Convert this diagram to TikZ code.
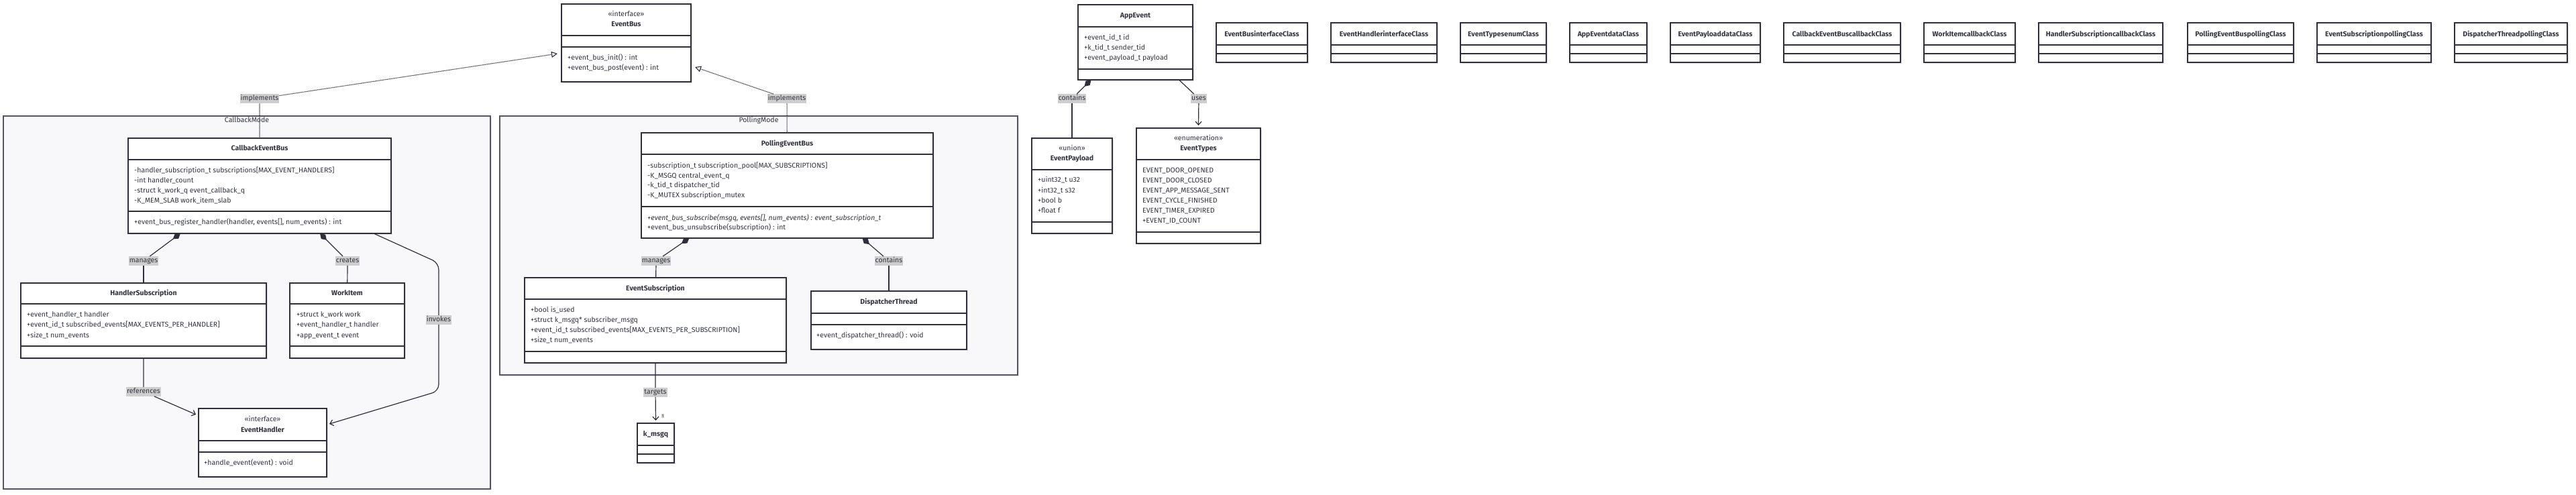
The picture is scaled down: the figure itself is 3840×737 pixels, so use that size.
\documentclass[tikz,border=0pt]{standalone}
\usepackage{fontspec}
\setmainfont{Fira Sans}
\usetikzlibrary{arrows.meta,fit,shadows}
\definecolor{boxline}{HTML}{2E2E3C}
\definecolor{grpfill}{HTML}{F8F8FA}
\definecolor{grpline}{HTML}{55555F}
\definecolor{lblfill}{HTML}{CECECE}
\definecolor{txt}{HTML}{333340}
\newcommand{\fnt}{\fontsize{10.5}{12.6}\selectfont}
\begin{document}
\begin{tikzpicture}[x=1pt, y=-1pt]

	\tikzstyle{grupo}=[draw=grpline, fill=grpfill, line width=1.2pt, inner sep=0pt, outer sep=0pt, drop shadow={shadow xshift=2pt, shadow yshift=-2pt, fill=black!8, opacity=1}]
	\tikzstyle{clase}=[draw=boxline, fill=white, line width=1.5pt, inner sep=0pt, outer sep=0pt, drop shadow={shadow xshift=2pt, shadow yshift=-2pt, fill=black!10, opacity=1}]
	\tikzstyle{div}=[draw=boxline, line width=1.5pt]
	\tikzstyle{attr}=[anchor=west, inner sep=0pt, text=txt, font=\fnt, text height=8pt, text depth=2.5pt]
	\tikzstyle{titulo}=[inner sep=0pt, text=txt, font=\fnt\bfseries, text height=8pt, text depth=2.5pt]
	\tikzstyle{estereo}=[inner sep=0pt, text=txt, font=\fnt, text height=8pt, text depth=2.5pt]
	\tikzstyle{etiq}=[fill=lblfill, inner xsep=1pt, inner ysep=1.5pt, text=txt, font=\fnt, text height=8pt, text depth=2.5pt]
	\tikzstyle{lin}=[draw=boxline, line width=1.2pt]
	\tikzstyle{impl}=[draw=boxline, line width=1.1pt, dash pattern=on 1.2pt off 0.8pt, -{Triangle[open, length=9pt, width=9pt]}]
	\tikzstyle{comp}=[lin, {Diamond[length=14pt, width=9pt]}-]
	\tikzstyle{dep}=[lin, -{Straight Barb[length=5pt, width=9pt]}]

	\useasboundingbox[fill=white] (0,0) rectangle (3840,737);

	%%%%%%% GRUPOS %%%%%%%%
	\node[grupo, fit={(5,173)(731,729)}] (g_cb) {};
	\node[estereo] (g_cb_t) at (g_cb.north |- 0,180) {CallbackMode};
	\node[grupo, fit={(745,173)(1517,559)}] (g_pb) {};
	\node[estereo] (g_pb_t) at (g_pb.north |- 0,180) {PollingMode};

	%%%%%%% INTERFAZ EVENTBUS %%%%%%%%
	\node[clase, fit={(837,6)(1030,122)}] (c_ebus) {};
	\draw[div] (c_ebus.west |- 0,53) -- (c_ebus.east |- 0,53);
	\draw[div] (c_ebus.west |- 0,70) -- (c_ebus.east |- 0,70);
	\node[estereo] (ebus_s) at (c_ebus.center |- 0,22) {«interface»};
	\node[titulo] (ebus_t) at (c_ebus.center |- 0,37) {EventBus};
	\node[attr] (ebus_m1) at (846,87) {+event\_bus\_init() : int};
	\node[attr] (ebus_m2) at (846,102) {+event\_bus\_post(event) : int};

	%%%%%%% CALLBACK MODE %%%%%%%%
	\node[clase, fit={(191,206)(583,348)}] (c_cbbus) {};
	\draw[div] (c_cbbus.west |- 0,238) -- (c_cbbus.east |- 0,238);
	\draw[div] (c_cbbus.west |- 0,315) -- (c_cbbus.east |- 0,315);
	\node[titulo] (cbbus_t) at (c_cbbus.center |- 0,222) {CallbackEventBus};
	\node[attr] (cbbus_a1) at (200,255) {-handler\_subscription\_t subscriptions[MAX\_EVENT\_HANDLERS]};
	\node[attr] (cbbus_a2) at (200,270) {-int handler\_count};
	\node[attr] (cbbus_a3) at (200,285) {-struct k\_work\_q event\_callback\_q};
	\node[attr] (cbbus_a4) at (200,300) {-K\_MEM\_SLAB work\_item\_slab};
	\node[attr] (cbbus_m1) at (200,332) {+event\_bus\_register\_handler(handler, events[], num\_events) : int};

	\node[clase, fit={(31,422)(397,534)}] (c_hsub) {};
	\draw[div] (c_hsub.west |- 0,453) -- (c_hsub.east |- 0,453);
	\draw[div] (c_hsub.west |- 0,516) -- (c_hsub.east |- 0,516);
	\node[titulo] (hsub_t) at (c_hsub.center |- 0,438) {HandlerSubscription};
	\node[attr] (hsub_a1) at (40,470) {+event\_handler\_t handler};
	\node[attr] (hsub_a2) at (40,485) {+event\_id\_t subscribed\_events[MAX\_EVENTS\_PER\_HANDLER]};
	\node[attr] (hsub_a3) at (40,501) {+size\_t num\_events};

	\node[clase, fit={(432,422)(603,534)}] (c_witem) {};
	\draw[div] (c_witem.west |- 0,453) -- (c_witem.east |- 0,453);
	\draw[div] (c_witem.west |- 0,516) -- (c_witem.east |- 0,516);
	\node[titulo] (witem_t) at (c_witem.center |- 0,438) {WorkItem};
	\node[attr] (witem_a1) at (442,470) {+struct k\_work work};
	\node[attr] (witem_a2) at (442,485) {+event\_handler\_t handler};
	\node[attr] (witem_a3) at (442,501) {+app\_event\_t event};

	\node[clase, fit={(296,609)(487,711)}] (c_ehand) {};
	\draw[div] (c_ehand.west |- 0,657) -- (c_ehand.east |- 0,657);
	\draw[div] (c_ehand.west |- 0,674) -- (c_ehand.east |- 0,674);
	\node[estereo] (ehand_s) at (c_ehand.center |- 0,626) {«interface»};
	\node[titulo] (ehand_t) at (c_ehand.center |- 0,642) {EventHandler};
	\node[attr] (ehand_m1) at (304,691) {+handle\_event(event) : void};

	%%%%%%% POLLING MODE %%%%%%%%
	\node[clase, fit={(956,198)(1391,355)}] (c_pbus) {};
	\draw[div] (c_pbus.west |- 0,230) -- (c_pbus.east |- 0,230);
	\draw[div] (c_pbus.west |- 0,308) -- (c_pbus.east |- 0,308);
	\node[titulo] (pbus_t) at (c_pbus.center |- 0,215) {PollingEventBus};
	\node[attr] (pbus_a1) at (965,248) {-subscription\_t subscription\_pool[MAX\_SUBSCRIPTIONS]};
	\node[attr] (pbus_a2) at (965,263) {-K\_MSGQ central\_event\_q};
	\node[attr] (pbus_a3) at (965,277) {-k\_tid\_t dispatcher\_tid};
	\node[attr] (pbus_a4) at (965,292) {-K\_MUTEX subscription\_mutex};
	\node[attr, font=\fnt\itshape] (pbus_m1) at (965,326) {+event\_bus\_subscribe(msgq, events[], num\_events) : event\_subscription\_t};
	\node[attr] (pbus_m2) at (965,340) {+event\_bus\_unsubscribe(subscription) : int};

	\node[clase, fit={(782,414)(1172,541)}] (c_esub) {};
	\draw[div] (c_esub.west |- 0,446) -- (c_esub.east |- 0,446);
	\draw[div] (c_esub.west |- 0,524) -- (c_esub.east |- 0,524);
	\node[titulo] (esub_t) at (c_esub.center |- 0,431) {EventSubscription};
	\node[attr] (esub_a1) at (791,463) {+bool is\_used};
	\node[attr] (esub_a2) at (791,478) {+struct k\_msgq* subscriber\_msgq};
	\node[attr] (esub_a3) at (791,493) {+event\_id\_t subscribed\_events[MAX\_EVENTS\_PER\_SUBSCRIPTION]};
	\node[attr] (esub_a4) at (791,508) {+size\_t num\_events};

	\node[clase, fit={(1209,434)(1441,521)}] (c_dthr) {};
	\draw[div] (c_dthr.west |- 0,467) -- (c_dthr.east |- 0,467);
	\draw[div] (c_dthr.west |- 0,484) -- (c_dthr.east |- 0,484);
	\node[titulo] (dthr_t) at (c_dthr.center |- 0,451) {DispatcherThread};
	\node[attr] (dthr_m1) at (1217,501) {+event\_dispatcher\_thread() : void};

	\node[clase, fit={(950,631)(1005,690)}] (c_kmsgq) {};
	\draw[div] (c_kmsgq.west |- 0,664) -- (c_kmsgq.east |- 0,664);
	\draw[div] (c_kmsgq.west |- 0,677) -- (c_kmsgq.east |- 0,677);
	\node[titulo] (kmsgq_t) at (c_kmsgq.center |- 0,648) {k\_msgq};

	%%%%%%% EVENTOS %%%%%%%%
	\node[clase, fit={(1607,7)(1778,119)}] (c_apev) {};
	\draw[div] (c_apev.west |- 0,40) -- (c_apev.east |- 0,40);
	\draw[div] (c_apev.west |- 0,103) -- (c_apev.east |- 0,103);
	\node[titulo] (apev_t) at (c_apev.center |- 0,24) {AppEvent};
	\node[attr] (apev_a1) at (1616,57) {+event\_id\_t id};
	\node[attr] (apev_a2) at (1616,72) {+k\_tid\_t sender\_tid};
	\node[attr] (apev_a3) at (1616,87) {+event\_payload\_t payload};

	\node[clase, fit={(1538,206)(1658,348)}] (c_payl) {};
	\draw[div] (c_payl.west |- 0,253) -- (c_payl.east |- 0,253);
	\draw[div] (c_payl.west |- 0,331) -- (c_payl.east |- 0,331);
	\node[estereo] (payl_s) at (c_payl.center |- 0,222) {«union»};
	\node[titulo] (payl_t) at (c_payl.center |- 0,237) {EventPayload};
	\node[attr] (payl_a1) at (1547,269) {+uint32\_t u32};
	\node[attr] (payl_a2) at (1547,285) {+int32\_t s32};
	\node[attr] (payl_a3) at (1547,300) {+bool b};
	\node[attr] (payl_a4) at (1547,315) {+float f};

	\node[clase, fit={(1694,191)(1879,363)}] (c_etyp) {};
	\draw[div] (c_etyp.west |- 0,238) -- (c_etyp.east |- 0,238);
	\draw[div] (c_etyp.west |- 0,346) -- (c_etyp.east |- 0,346);
	\node[estereo] (etyp_s) at (c_etyp.center |- 0,207) {«enumeration»};
	\node[titulo] (etyp_t) at (c_etyp.center |- 0,222) {EventTypes};
	\node[attr] (etyp_a1) at (1703,255) {EVENT\_DOOR\_OPENED};
	\node[attr] (etyp_a2) at (1703,270) {EVENT\_DOOR\_CLOSED};
	\node[attr] (etyp_a3) at (1703,285) {EVENT\_APP\_MESSAGE\_SENT};
	\node[attr] (etyp_a4) at (1703,300) {EVENT\_CYCLE\_FINISHED};
	\node[attr] (etyp_a5) at (1703,315) {EVENT\_TIMER\_EXPIRED};
	\node[attr] (etyp_a6) at (1703,330) {+EVENT\_ID\_COUNT};

	%%%%%%% CLASES VACIAS %%%%%%%%
	\foreach \xa/\xb/\nom [count=\i] in {1813/1949/EventBusinterfaceClass, 1984/2142/EventHandlerinterfaceClass,
		2177/2305/EventTypesenumClass, 2340/2455/AppEventdataClass, 2490/2624/EventPayloaddataClass,
		2659/2833/CallbackEventBuscallbackClass, 2868/3004/WorkItemcallbackClass,
		3039/3224/HandlerSubscriptioncallbackClass, 3261/3419/PollingEventBuspollingClass,
		3454/3624/EventSubscriptionpollingClass, 3659/3827/DispatcherThreadpollingClass}{
		\node[clase, fit={(\xa,34)(\xb,93)}] (s_\i) {};
		\draw[div] (s_\i.west |- 0,67) -- (s_\i.east |- 0,67);
		\draw[div] (s_\i.west |- 0,80) -- (s_\i.east |- 0,80);
		\node[titulo] (s_\i_t) at (s_\i.center |- 0,52) {\nom};
	}

	%%%%%%% ETIQUETAS %%%%%%%%
	\node[etiq] (l_impl_cb) at (387,147) {implements};
	\node[etiq] (l_impl_pb) at (1173,147) {implements};
	\node[etiq] (l_cb_man) at (214,389) {manages};
	\node[etiq] (l_cb_cre) at (518,389) {creates};
	\node[etiq] (l_inv) at (654,477) {invokes};
	\node[etiq] (l_ref) at (214,584) {references};
	\node[etiq] (l_pb_man) at (978,389) {manages};
	\node[etiq] (l_pb_con) at (1325,389) {contains};
	\node[etiq] (l_tar) at (977,585) {targets};
	\node[etiq, font=\fontsize{6}{7}\selectfont, text height=4.5pt, text depth=0pt, inner sep=0.6pt] (m_tar) at (988,620) {1};
	\node[etiq] (l_ae_con) at (1598,147) {contains};
	\node[etiq] (l_uses) at (1787,147) {uses};

	%%%%%%% CONECTORES %%%%%%%%
	\draw[impl] (c_cbbus) -- (l_impl_cb) -- ([xshift=-6pt, yshift=-16pt]c_ebus.west);
	\draw[impl] (c_pbus) -- (l_impl_pb) -- ([xshift=6pt, yshift=-36pt]c_ebus.east);

	\draw[comp] ([xshift=-118pt]c_cbbus.south) -- (l_cb_man);
	\draw[lin] (l_cb_man) -- (c_hsub);
	\draw[comp] ([xshift=90pt]c_cbbus.south) -- (l_cb_cre);
	\draw[lin] (l_cb_cre) -- (c_witem);
	\draw[dep, rounded corners=10pt] ([xshift=170pt]c_cbbus.south) -- ([yshift=85pt]l_inv.center) -- (l_inv) -- ([yshift=-106pt]l_inv.center) -- ([xshift=4pt, yshift=28pt]c_ehand.east);
	\draw[dep] (c_hsub) -- (l_ref) -- ([xshift=-4pt, yshift=42pt]c_ehand.west);

	\draw[comp] ([xshift=-146pt]c_pbus.south) -- (l_pb_man);
	\draw[lin] (l_pb_man) -- (c_esub);
	\draw[comp] ([xshift=112pt]c_pbus.south) -- (l_pb_con);
	\draw[lin] (l_pb_con) -- (c_dthr);
	\draw[dep] (c_esub) -- (l_tar) -- ([yshift=4pt]c_kmsgq.north);

	\draw[comp] ([xshift=-66pt]c_apev.south) -- (l_ae_con);
	\draw[lin] (l_ae_con) -- (c_payl);
	\draw[dep] ([xshift=65pt]c_apev.south) -- (l_uses) -- ([yshift=4pt]c_etyp.north);
\end{tikzpicture}
\end{document}
